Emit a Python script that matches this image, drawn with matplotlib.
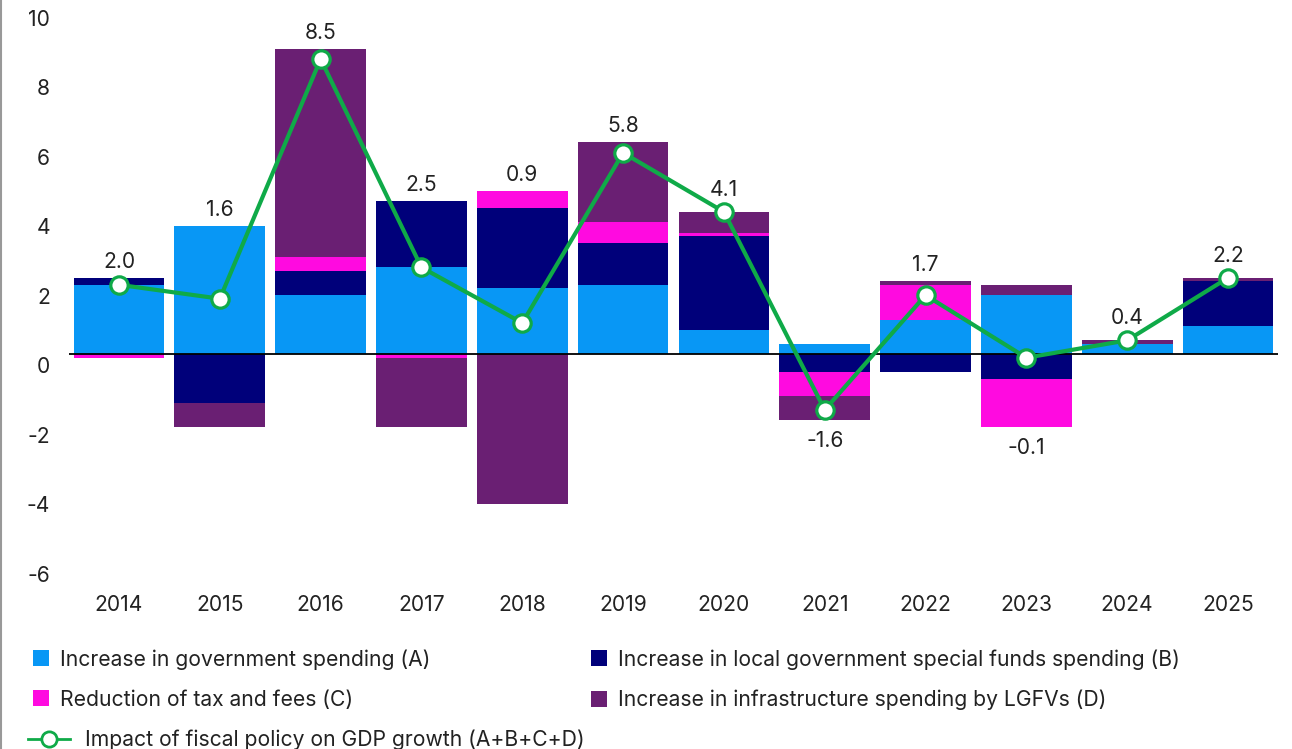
import matplotlib
matplotlib.use("Agg")
import matplotlib.pyplot as plt
import matplotlib.transforms as mtransforms
from matplotlib.lines import Line2D
from matplotlib.patches import Patch
import numpy as np

plt.rcParams["font.family"] = ["Inter", "DejaVu Sans"]
plt.rcParams["axes.unicode_minus"] = False

years = ["2014", "2015", "2016", "2017", "2018", "2019",
         "2020", "2021", "2022", "2023", "2024", "2025"]
gov_spending = [2.0, 3.7, 1.7, 2.5, 1.9, 2.0, 0.7, 0.3, 1.0, 1.7, 0.3, 0.8]          # A
special_funds = [0.2, -1.4, 0.7, 1.9, 2.3, 1.2, 2.7, -0.5, -0.5, -0.7, 0.0, 1.3]     # B
tax_cuts = [-0.1, 0.0, 0.4, -0.1, 0.5, 0.6, 0.1, -0.7, 1.0, -1.4, 0.0, 0.0]          # C
lgfv_infra = [0.0, -0.7, 6.0, -2.0, -4.3, 2.3, 0.6, -0.7, 0.1, 0.3, 0.1, 0.1]        # D
gdp_impact = [2.0, 1.6, 8.5, 2.5, 0.9, 5.8, 4.1, -1.6, 1.7, -0.1, 0.4, 2.2]

series = [
    ("Increase in government spending (A)", gov_spending, "#0897F5"),
    ("Increase in local government special funds spending (B)", special_funds, "#00007A"),
    ("Reduction of tax and fees (C)", tax_cuts, "#FF0AE0"),
    ("Increase in infrastructure spending by LGFVs (D)", lgfv_infra, "#6A1F73"),
]
GREEN = "#0FAA48"
TXT = "#222222"
FS = 15.2

fig = plt.figure(figsize=(12.92, 7.49), dpi=100)
ax = fig.add_axes([68.6 / 1292, (749 - 580) / 749, (1278.4 - 68.6) / 1292, 580 / 749])

x = np.arange(len(years))
pos_base = np.zeros(len(years))
neg_base = np.zeros(len(years))
handles = {}
for label, vals, color in series:
    v = np.array(vals)
    pos = np.where(v > 0, v, 0)
    neg = np.where(v < 0, v, 0)
    ax.bar(x, pos, 0.9, bottom=pos_base, color=color, linewidth=0, zorder=2)
    ax.bar(x, neg, 0.9, bottom=neg_base, color=color, linewidth=0, zorder=2)
    pos_base += pos
    neg_base += neg
    handles[label] = Patch(facecolor=color, edgecolor="none", label=label)

ax.axhline(0, color="black", linewidth=1.3, zorder=3)

ax.plot(x, gdp_impact, color=GREEN, linewidth=3, marker="o", markersize=12.5,
        markerfacecolor="white", markeredgecolor=GREEN, markeredgewidth=2.3, zorder=4)

# value labels above the stack (or below for negative totals)
px = 34.75  # pixels per unit
for i, v in enumerate(gdp_impact):
    if v >= 0:
        y = max(pos_base[i] + 16 / px, v + 22 / px)
    else:
        y = neg_base[i] - 21 / px
    ax.text(i, y, f"{v:.1f}", ha="center", va="center", fontsize=FS, color=TXT, zorder=5)

ax.set_xlim(-0.5, len(years) - 0.5)
ax.set_ylim(-6.5, 10.2)
ax.set_yticks(np.arange(-6, 11, 2))
ax.set_xticks(x)
ax.set_xticklabels(years)
ax.tick_params(axis="both", length=0, labelsize=FS, labelcolor=TXT)
ax.tick_params(axis="y", pad=13.4)
ax.tick_params(axis="x", pad=11)
for lab in ax.get_yticklabels():
    lab.set_transform(lab.get_transform()
                      + mtransforms.ScaledTranslation(0, -11 / 100, fig.dpi_scale_trans))
for s in ax.spines.values():
    s.set_visible(False)

# legend: two columns of bar series, then the line on its own row
names = [s[0] for s in series]
leg1 = fig.legend(handles=[handles[names[0]], handles[names[2]],
                           handles[names[1]], handles[names[3]]],
                  ncol=2, loc="upper left", bbox_to_anchor=(32.7 / 1292, 1 - 649 / 749),
                  frameon=False, fontsize=FS, labelcolor=TXT,
                  handlelength=0.79, handleheight=0.79, handletextpad=0.5,
                  columnspacing=7.6, labelspacing=0.95, borderaxespad=0, borderpad=0)
line_handle = Line2D([], [], color=GREEN, linewidth=2, marker="o", markersize=11,
                     markerfacecolor="white", markeredgecolor=GREEN, markeredgewidth=2,
                     label="Impact of fiscal policy on GDP growth (A+B+C+D)")
leg2 = fig.legend(handles=[line_handle], loc="upper left",
                  bbox_to_anchor=(27.7 / 1292, 1 - 730 / 749),
                  frameon=False, fontsize=FS, labelcolor=TXT,
                  handlelength=2.0, handletextpad=0.71, borderaxespad=0, borderpad=0)

fig.add_artist(Line2D([0.6 / 1292, 0.6 / 1292], [0, 1], color="#999999", linewidth=1.5))

fig.savefig("out.png", dpi=100)
